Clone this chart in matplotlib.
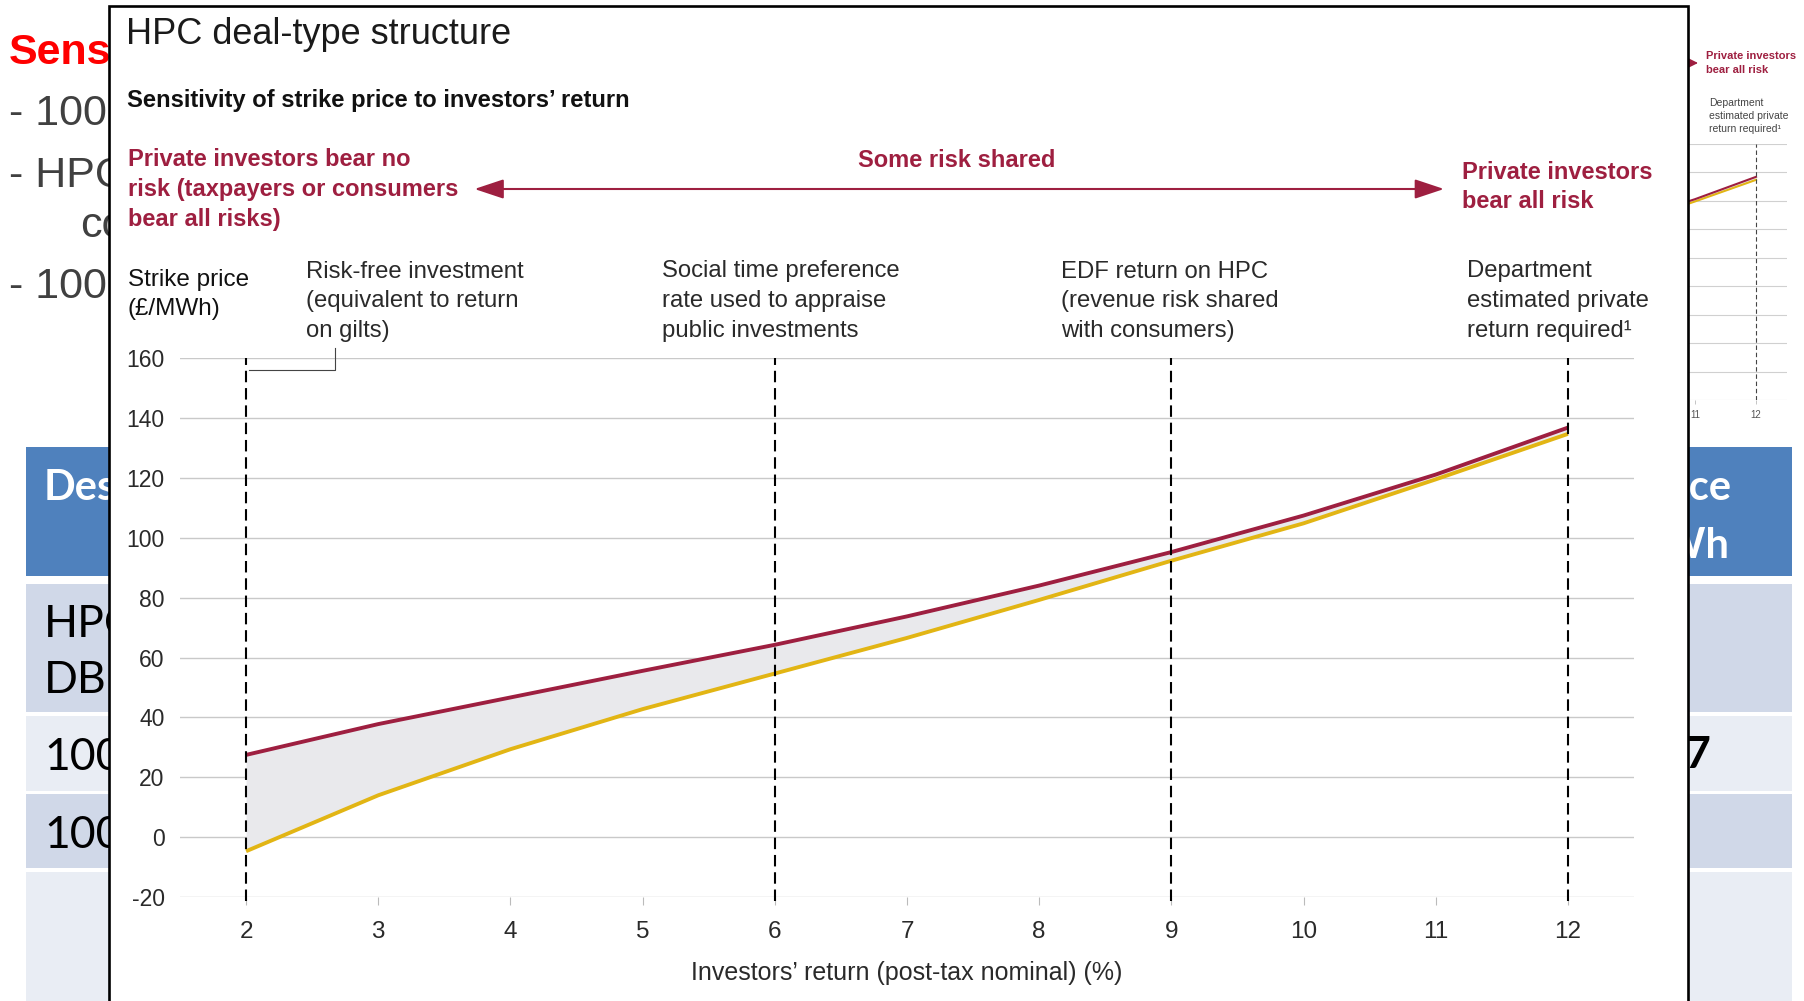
import matplotlib
matplotlib.use("Agg")
import matplotlib.pyplot as plt
from matplotlib.patches import Rectangle, FancyArrowPatch

# ---------------- data ----------------
returns = [2, 3, 4, 5, 6, 7, 8, 9, 10, 11, 12]
upper_price = [27.5, 37.8, 46.7, 55.6, 64.3, 73.8, 84.1, 95.3, 107.5, 121.2, 136.9]
lower_price = [-4.7, 14.0, 29.4, 42.8, 54.7, 66.6, 79.3, 92.4, 104.9, 119.6, 134.8]
y_ticks = [-20, 0, 20, 40, 60, 80, 100, 120, 140, 160]
marker_returns = [2, 6, 9, 12]
marker_labels = [
    ["Risk-free investment", "(equivalent to return", "on gilts)"],
    ["Social time preference", "rate used to appraise", "public investments"],
    ["EDF return on HPC", "(revenue risk shared", "with consumers)"],
    ["Department", "estimated private", "return required\u00b9"],
]
title = "HPC deal-type structure"
subtitle = "Sensitivity of strike price to investors\u2019 return"
xlabel = "Investors\u2019 return (post-tax nominal) (%)"
ylabel_lines = ["Strike price", "(\u00a3/MWh)"]
risk_left = ["Private investors bear no", "risk (taxpayers or consumers", "bear all risks)"]
risk_mid = "Some risk shared"
risk_right = ["Private investors", "bear all risk"]

# ---------------- style ----------------
W, H = 1804, 1001
RED = "#9E1F40"
YEL = "#E2B514"
FILL = "#E9E9EC"
GRID = "#C9C9C9"
TXT = "#2a2a2a"
FONT = "Liberation Sans"
plt.rcParams["font.family"] = [FONT, "DejaVu Sans"]

fig = plt.figure(figsize=(W / 100, H / 100), dpi=100)


def px_axes(z):
    ax = fig.add_axes([0, 0, 1, 1], zorder=z)
    ax.set_xlim(0, W)
    ax.set_ylim(H, 0)
    ax.axis("off")
    ax.patch.set_alpha(0)
    return ax


def txt(ax, x, y, s, **kw):
    kw.setdefault("va", "baseline")
    return ax.text(x, y, s, **kw)


# ---------------- background slide ----------------
bg = px_axes(0)
TL, TR = 25.7, 1792
bg.add_patch(Rectangle((TL, 447), TR - TL, 128.5, color="#4F81BD", lw=0))
rows = [(584, 712, "#D0D8E8"), (715.5, 791, "#E9EDF4"), (794, 868, "#D0D8E8"), (871.5, 1010, "#E9EDF4")]
for y0, y1, c in rows:
    bg.add_patch(Rectangle((TL, y0), TR - TL, y1 - y0, color=c, lw=0))

txt(bg, 9, 64, "Sens", color="#FF0000", fontsize=31, fontweight="bold")
for y, s, x in [(125, "- 100", 9), (187, "- HPC", 9), (237, "co", 80), (298, "- 100", 9)]:
    txt(bg, x, y, s, color="#404040", fontsize=31)
TF = ["Lato", "DejaVu Sans"]
txt(bg, 44, 500, "Des", color="white", fontsize=30, fontweight="bold", family=TF)
txt(bg, 44, 637, "HPC", color="black", fontsize=32, family=TF)
txt(bg, 44, 693, "DBF", color="black", fontsize=32, family=TF)
txt(bg, 44, 770, "100", color="black", fontsize=32, family=TF)
txt(bg, 44, 848, "100", color="black", fontsize=32, family=TF)
txt(bg, 1731, 500, "Strike price", color="white", fontsize=30, fontweight="bold", family=TF, ha="right")
txt(bg, 1729, 557, "\u00a3/MWh", color="white", fontsize=30, fontweight="bold", family=TF, ha="right")
txt(bg, 1711, 768, "7", color="black", fontsize=32, fontweight="bold", family=TF, ha="right")

# small copy of the chart behind the overlay
bg.add_patch(FancyArrowPatch((1500, 63), (1698, 63), arrowstyle="-|>,head_length=0.9,head_width=0.45",
                             mutation_scale=10, color=RED, lw=1.0, shrinkA=0, shrinkB=0))
txt(bg, 1706, 59, risk_right[0], color=RED, fontsize=8, fontweight="bold")
txt(bg, 1706, 73, risk_right[1], color=RED, fontsize=8, fontweight="bold")
for i, s in enumerate(marker_labels[-1]):
    txt(bg, 1709, 106 + 13 * i, s, color="#444444", fontsize=7.5)

mini = fig.add_axes([1115.5 / W, 1 - 400 / H, 671 / W, 256 / H], zorder=1)
mini.patch.set_alpha(0)
mini.set_xlim(1.5, 12.5)
mini.set_ylim(-20, 160)
for v in y_ticks:
    mini.axhline(v, color="#D0D0D0", lw=0.8, zorder=1)
mini.fill_between(returns, lower_price, upper_price, color=FILL, lw=0, zorder=2)
mini.plot(returns, lower_price, color=YEL, lw=1.5, zorder=3)
mini.plot(returns, upper_price, color=RED, lw=1.5, zorder=4)
for m in marker_returns:
    mini.plot([m, m], [-20, 160], color="#444444", lw=0.8, ls=(0, (4, 2.5)), zorder=5)
for s in mini.spines.values():
    s.set_visible(False)
mini.set_xticks(returns)
mini.set_xticklabels([str(r) for r in returns])
mini.set_yticks([])
mini.tick_params(axis="x", length=3, width=0.6, color="#BBBBBB", labelsize=7, labelcolor="#555555", pad=4)

# ---------------- overlay box ----------------
box = px_axes(2)
box.add_patch(Rectangle((108.5, 6), 1688 - 108.5, 1020, facecolor="white", edgecolor="black", lw=1.9))

txt(box, 126, 43.5, title, color="#1a1a1a", fontsize=26)
txt(box, 127, 106.5, subtitle, color="#111111", fontsize=17.1, fontweight="bold")
for i, s in enumerate(risk_left):
    txt(box, 128, 165.7 + 30 * i, s, color=RED, fontsize=17, fontweight="bold")
txt(box, 957, 166.7, risk_mid, color=RED, fontsize=17, fontweight="bold", ha="center")
for i, s in enumerate(risk_right):
    txt(box, 1462, 179.3 + 29 * i, s, color=RED, fontsize=17, fontweight="bold")
box.add_patch(FancyArrowPatch((474.5, 189), (1444, 189), arrowstyle="<|-|>,head_length=1.8,head_width=0.6",
                              mutation_scale=10, color=RED, lw=1.5, shrinkA=0, shrinkB=0))
for i, s in enumerate(ylabel_lines):
    txt(box, 127.5, 286 + 29 * i, s, color="#111111", fontsize=17.5)
label_x = [306, 662, 1061, 1467]
for lx, lines in zip(label_x, marker_labels):
    for i, s in enumerate(lines):
        txt(box, lx, 277.5 + 29.5 * i, s, color=TXT, fontsize=17.2)

# ---------------- main chart ----------------
ax = fig.add_axes([180 / W, 1 - 897 / H, (1634 - 180) / W, (897 - 358.5) / H], zorder=3)
ax.patch.set_alpha(0)
ax.set_xlim(1.5, 12.5)
ax.set_ylim(-20, 160)
for v in y_ticks:
    ax.axhline(v, color=GRID, lw=1.0, zorder=1)
ax.fill_between(returns, lower_price, upper_price, color=FILL, lw=0, zorder=2)
ax.plot(returns, lower_price, color=YEL, lw=2.8, zorder=3, solid_capstyle="butt")
ax.plot(returns, upper_price, color=RED, lw=2.8, zorder=4, solid_capstyle="butt")
for m in marker_returns:
    ax.plot([m, m], [-21.5, 160], color="black", lw=1.5, ls=(0, (5.5, 2.8)), zorder=5, clip_on=False)
# bracket pointing to the risk-free label
ax.plot([2.02, 2.67, 2.67], [156.3, 156.3, 163.6], color="#444444", lw=0.8, zorder=5, clip_on=False)

for s in ax.spines.values():
    s.set_visible(False)
ax.set_xticks(returns)
ax.set_xticklabels([str(r) for r in returns])
ax.set_yticks(y_ticks)
ax.set_yticklabels([str(v) for v in y_ticks])
ax.tick_params(axis="y", length=0, pad=11, labelsize=16.5, labelcolor=TXT)
ax.tick_params(axis="x", length=5.5, width=0.8, color="#BBBBBB", pad=11.5, labelsize=17.5, labelcolor=TXT)
ax.set_xlabel(xlabel, fontsize=18, color=TXT, labelpad=13)

fig.savefig("out.png", dpi=100)
